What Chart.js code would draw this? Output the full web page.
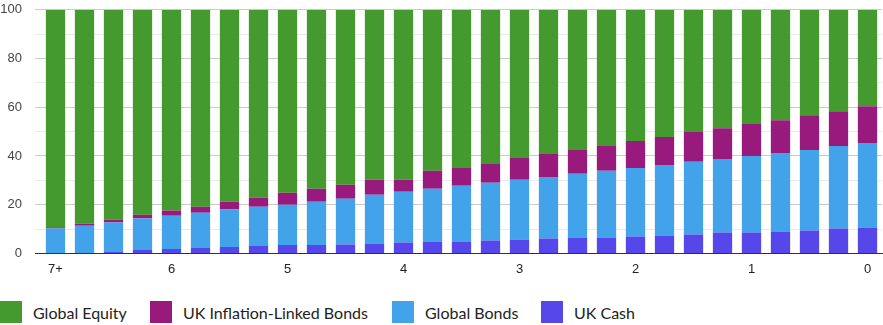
<!DOCTYPE html>
<html>
<head>
<meta charset="utf-8">
<script src="https://cdn.jsdelivr.net/npm/chart.js@4"></script>
<style>
  body { margin: 0; background: #fff; overflow: hidden; }
  /* y tick padding also pads the chart top; shift the canvas up to compensate */
  #wrap { position: absolute; left: 0; top: -11px; width: 883px; height: 296px; }
  #legend {
    position: absolute; left: 0; top: 301px; width: 883px; height: 22px;
    font-family: Lato, "Open Sans", sans-serif; font-size: 16px; color: #222;
  }
  .item { position: absolute; top: 0; display: flex; align-items: center; height: 22px; }
  .box { width: 22px; height: 22px; margin-right: 11px; }
</style>
</head>
<body>
<div id="wrap"><canvas id="chart"></canvas></div>
<div id="legend"></div>
<script>
// Years to retirement; only every fourth bar gets a label.
const yearLabels = [
    '7+', '', '', '',
    '6', '', '', '',
    '5', '', '', '',
    '4', '', '', '',
    '3', '', '', '',
    '2', '', '', '',
    '1', '', '', '',
    '0'
];

// Allocation (%) per bar. Bottom of stack first.
const ukCash = [0, 0, 0.8, 1.4, 1.8, 2.2, 2.6, 3.0, 3.4, 3.4, 3.7, 4.1, 4.5, 4.9, 4.9,
    5.3, 5.7, 6.1, 6.5, 6.5, 6.9, 7.3, 7.8, 8.6, 8.6, 9.0, 9.4, 10.2, 10.6];
const globalBonds = [10.2, 11.4, 11.9, 12.9, 13.7, 14.5, 15.4, 16.2, 16.6, 17.8, 18.7, 20.0, 20.8, 21.6, 22.9,
    23.7, 24.5, 25.3, 26.2, 27.4, 28.2, 29.0, 29.8, 30.2, 31.4, 32.2, 33.0, 33.9, 34.7];
const ukLinkers = [0.5, 0.8, 1.2, 1.6, 2.1, 2.5, 3.2, 3.7, 4.9, 5.3, 5.8, 6.1, 4.9, 7.4, 7.3,
    7.7, 9.0, 9.4, 9.7, 10.2, 11.0, 11.5, 12.2, 12.6, 13.1, 13.5, 14.3, 14.3, 15.1];
// Equity fills the rest up to 100.
const globalEquity = ukCash.map((c, i) => +(100 - c - globalBonds[i] - ukLinkers[i]).toFixed(1));

const yTicks = [0, 20, 40, 60, 80, 100];

// Colours, in legend order.
const seriesNames = ['Global Equity', 'UK Inflation-Linked Bonds', 'Global Bonds', 'UK Cash'];
const seriesColors = ['#459a2f', '#991a7d', '#42a2ea', '#5547ea'];

const datasets = [
    { label: 'UK Cash', data: ukCash, backgroundColor: seriesColors[3] },
    { label: 'Global Bonds', data: globalBonds, backgroundColor: seriesColors[2] },
    { label: 'UK Inflation-Linked Bonds', data: ukLinkers, backgroundColor: seriesColors[1] },
    { label: 'Global Equity', data: globalEquity, backgroundColor: seriesColors[0] }
].map(ds => Object.assign(ds, { barPercentage: 0.665, categoryPercentage: 1.0, borderWidth: 0 }));

function gridColor(ctx) {
    // major lines every 20, faint minor lines in between, dark baseline
    if (ctx.tick.value === 0) return '#333';
    return yTicks.includes(ctx.tick.value) ? '#cccccc' : '#ebebeb';
}

new Chart(document.getElementById('chart'), {
    type: 'bar',
    data: { labels: yearLabels, datasets: datasets },
    options: {
        responsive: true,
        maintainAspectRatio: false,
        animation: false,
        layout: { autoPadding: false, padding: { top: 0, right: 1, left: 0, bottom: 0 } },
        plugins: {
            legend: { display: false },
            tooltip: { enabled: false }
        },
        scales: {
            x: {
                stacked: true,
                grid: { display: false, drawTicks: false },
                border: { display: true, color: '#333' },
                ticks: {
                    autoSkip: false,
                    maxRotation: 0,
                    padding: 8,
                    color: '#222',
                    font: { family: '"Liberation Sans", Arial, sans-serif', size: 13 }
                }
            },
            y: {
                stacked: true,
                min: 0,
                max: 100,
                border: { display: false },
                grid: { color: gridColor, tickColor: gridColor, tickLength: 6 },
                ticks: {
                    stepSize: 10,
                    padding: 13,
                    color: '#444',
                    font: { family: '"Liberation Sans", Arial, sans-serif', size: 13 },
                    callback: v => yTicks.includes(v) ? v : ''
                },
                afterFit: scale => { scale.width = 41; }
            }
        }
    }
});

// HTML legend so box size and spacing match the original.
const legendLeft = [0, 150, 392, 541];
const legendEl = document.getElementById('legend');
seriesNames.forEach((name, i) => {
    const item = document.createElement('div');
    item.className = 'item';
    item.style.left = legendLeft[i] + 'px';
    item.innerHTML = '<span class="box" style="background:' + seriesColors[i] + '"></span><span>' + name + '</span>';
    legendEl.appendChild(item);
});
</script>
</body>
</html>
